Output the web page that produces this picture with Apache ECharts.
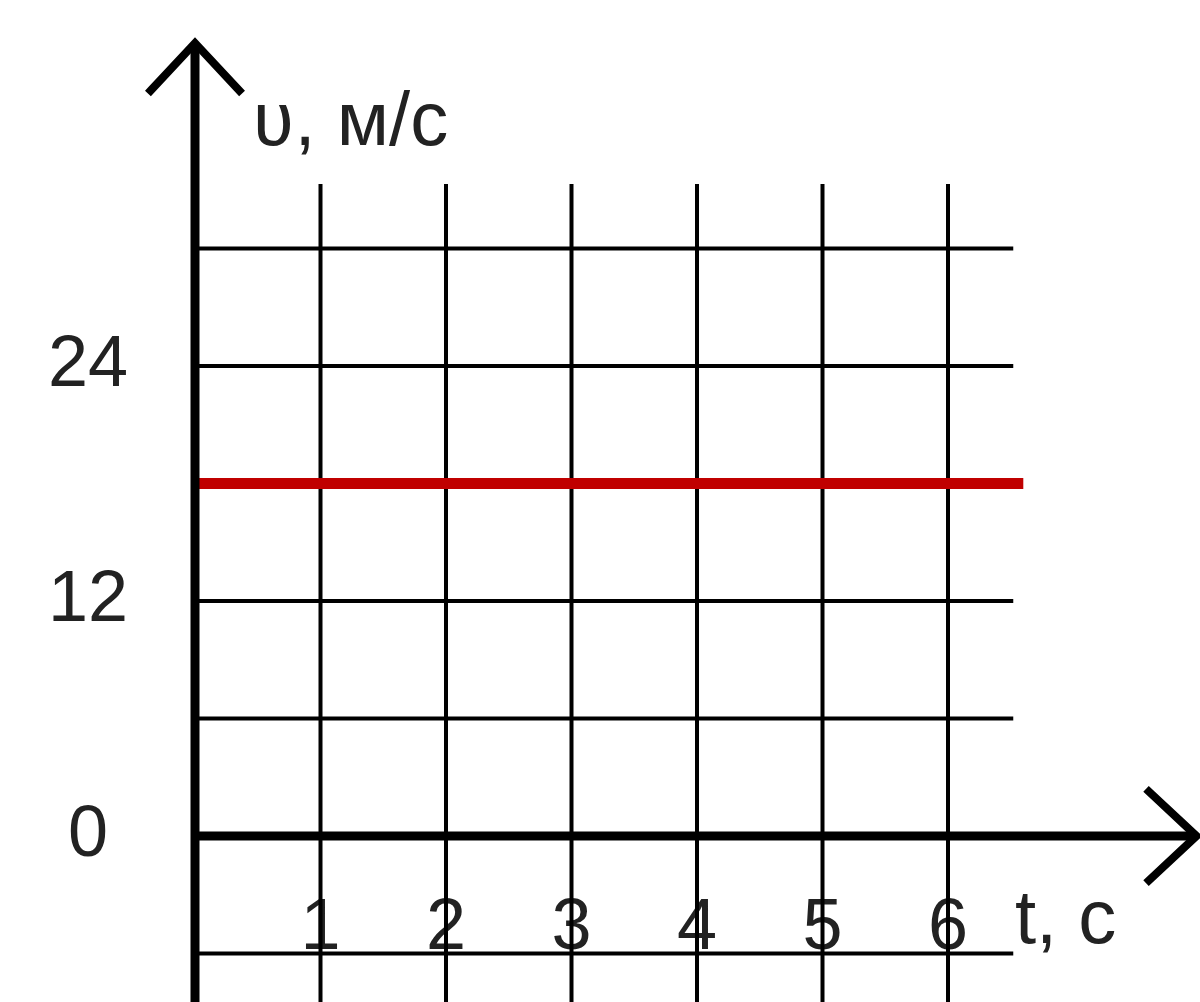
<!DOCTYPE html>
<html>
<head>
<meta charset="utf-8">
<script src="https://cdn.jsdelivr.net/npm/echarts@6/dist/echarts.min.js"></script>
<style>
  html, body { margin: 0; padding: 0; background: #fff; }
  #chart { width: 1200px; height: 1002px; }
</style>
</head>
<body>
<div id="chart"></div>
<script>
// speed-time graph, constant speed
const times = [0, 6.6];
const speeds = [18, 18];
const timeTicks = [1, 2, 3, 4, 5, 6];
const speedGrid = [-6, 6, 12, 18, 24, 30];
const speedLabels = [0, 12, 24];

// how far the grid and axes reach (data units)
const gridRight = 6.52;
const gridLow = -8.6;
const gridHigh = 33.3;
const xAxisEnd = 7.98;
const yAxisStart = -9;
const yAxisEnd = 40.5;

const font = 'Liberation Sans, Arial, sans-serif';
const ink = '#222';

const gridLines = [];
speedGrid.forEach(v => gridLines.push([0, v, gridRight, v]));
timeTicks.forEach(t => gridLines.push([t, gridLow, t, gridHigh]));

const axisLines = [
  [0, yAxisStart, 0, yAxisEnd],
  [0, 0, xAxisEnd, 0]
];

const chart = echarts.init(document.getElementById('chart'));

const options = {
  animation: false,
  backgroundColor: '#fff',
  grid: {
    left: 195,
    right: 1,
    top: 13.64,
    bottom: -68.96,
    containLabel: false,
    outerBoundsMode: 'none'
  },
  xAxis: {
    type: 'value',
    min: 0,
    max: 8,
    interval: 1,
    position: 'bottom',
    offset: -234.96, // put the labels under the zero line
    axisLine: { show: false, onZero: false },
    axisTick: { show: false },
    splitLine: { show: false },
    axisLabel: {
      formatter: v => (timeTicks.includes(v) ? String(v) : ''),
      fontSize: 72,
      fontFamily: font,
      color: ink,
      margin: 93,
      verticalAlign: 'middle',
      showMinLabel: true,
      showMaxLabel: true
    }
  },
  yAxis: {
    type: 'value',
    min: -12,
    max: 42,
    interval: 12,
    axisLine: { show: false },
    axisTick: { show: false },
    splitLine: { show: false },
    axisLabel: {
      formatter: v => (speedLabels.includes(v) ? String(v) : ''),
      fontSize: 72,
      fontFamily: font,
      color: ink,
      margin: 107,
      align: 'center'
    }
  },
  graphic: [
    {
      type: 'text',
      x: 253,
      y: 124,
      style: { text: 'ʋ, м/с', font: '76px ' + font, fill: ink, verticalAlign: 'middle' }
    },
    {
      type: 'text',
      x: 1015,
      y: 922,
      style: { text: 't, с', font: '76px ' + font, fill: ink, verticalAlign: 'middle' }
    }
  ],
  series: [
    {
      // grid lines
      type: 'custom',
      data: gridLines,
      silent: true,
      z: 1,
      renderItem: (params, api) => {
        const a = api.coord([api.value(0), api.value(1)]);
        const b = api.coord([api.value(2), api.value(3)]);
        return {
          type: 'line',
          shape: { x1: a[0], y1: a[1], x2: b[0], y2: b[1] },
          style: { stroke: '#000', lineWidth: 4 }
        };
      }
    },
    {
      type: 'line',
      data: times.map((t, i) => [t, speeds[i]]),
      symbol: 'none',
      silent: true,
      z: 2,
      lineStyle: { color: '#c00000', width: 11 }
    },
    {
      // the two axes with open arrow heads
      type: 'custom',
      data: axisLines,
      silent: true,
      z: 3,
      renderItem: (params, api) => {
        const a = api.coord([api.value(0), api.value(1)]);
        const b = api.coord([api.value(2), api.value(3)]);
        const ang = Math.atan2(b[1] - a[1], b[0] - a[0]);
        const len = 65;
        const spread = 43 * Math.PI / 180;
        const arm = s => [b[0] - len * Math.cos(ang + s), b[1] - len * Math.sin(ang + s)];
        return {
          type: 'group',
          children: [
            {
              type: 'line',
              shape: { x1: a[0], y1: a[1], x2: b[0], y2: b[1] },
              style: { stroke: '#000', lineWidth: 9 }
            },
            {
              type: 'polyline',
              shape: { points: [arm(spread), b, arm(-spread)] },
              style: { stroke: '#000', lineWidth: 8, fill: null, lineJoin: 'miter', lineCap: 'square' }
            }
          ]
        };
      }
    }
  ]
};

chart.setOption(options);
</script>
</body>
</html>
